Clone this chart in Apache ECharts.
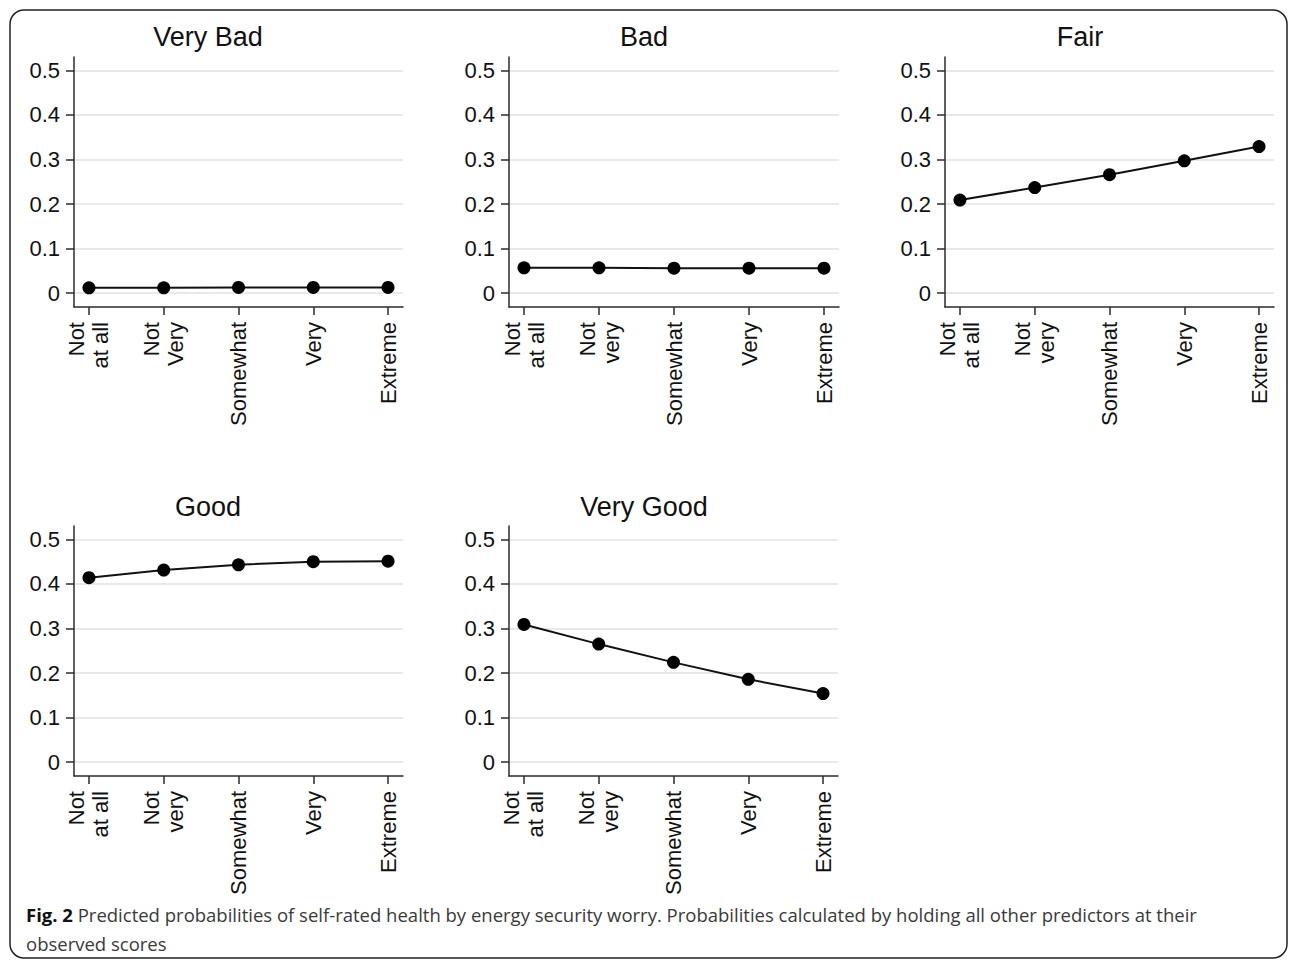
<!DOCTYPE html>
<html>
<head>
<meta charset="utf-8">
<script src="https://cdn.jsdelivr.net/npm/echarts@6/dist/echarts.min.js"></script>
<style>
html,body{margin:0;padding:0;background:#fff;}
#main{width:1290px;height:960px;}
</style>
</head>
<body>
<div id="main"></div>
<script>
// ---- data ----
const panelTitles = ['Very Bad', 'Bad', 'Fair', 'Good', 'Very Good'];
const worryLabelsFirst = ['Not\nat all', 'Not\nVery', 'Somewhat', 'Very', 'Extreme'];
const worryLabels = ['Not\nat all', 'Not\nvery', 'Somewhat', 'Very', 'Extreme'];
const yTicks = [0, 0.1, 0.2, 0.3, 0.4, 0.5];
const veryBad = [0.012, 0.012, 0.013, 0.013, 0.013];
const bad = [0.057, 0.057, 0.056, 0.056, 0.056];
const fair = [0.209, 0.237, 0.266, 0.297, 0.329];
const good = [0.414, 0.431, 0.443, 0.450, 0.451];
const veryGood = [0.309, 0.265, 0.224, 0.186, 0.154];
const captionBold = 'Fig. 2';
const captionLine1 = ' Predicted probabilities of self-rated health by energy security worry. Probabilities calculated by holding all other predictors at their';
const captionLine2 = 'observed scores';

// ---- layout ----
const seriesValues = [veryBad, bad, fair, good, veryGood];
const labelSets = [worryLabelsFirst, worryLabels, worryLabels, worryLabels, worryLabels];
const grids = [
  {left: 74, top: 57, width: 329, height: 250},
  {left: 509, top: 57, width: 330, height: 250},
  {left: 945, top: 57, width: 329, height: 250},
  {left: 74, top: 526, width: 329, height: 250},
  {left: 509, top: 526, width: 329, height: 250}
];
const titleCenters = [[208, 23], [644, 23], [1080, 23], [208, 493], [644, 493]];

const FONT = 'Arial';
const CAPFONT = 'Open Sans';
const AX = '#2b2b2b';

const option = {
  backgroundColor: '#fff',
  animation: false,
  textStyle: {fontFamily: FONT},
  title: panelTitles.map((t, i) => ({
    text: t,
    left: titleCenters[i][0],
    top: titleCenters[i][1],
    textAlign: 'center',
    padding: 0,
    textStyle: {fontFamily: FONT, fontSize: 27, fontWeight: 'normal', color: '#111'}
  })),
  grid: grids.map(g => Object.assign({containLabel: false}, g)),
  xAxis: grids.map((g, i) => ({
    type: 'value',
    gridIndex: i,
    min: -0.2,
    max: 4.2,
    axisLine: {show: true, onZero: false, lineStyle: {color: AX, width: 1.5}},
    axisTick: {show: true, length: 8, customValues: [0, 1, 2, 3, 4], lineStyle: {color: AX, width: 1.5}},
    splitLine: {show: false},
    axisLabel: {
      customValues: [0, 1, 2, 3, 4],
      rotate: 90,
      margin: 15,
      fontFamily: FONT,
      fontSize: 22,
      lineHeight: 24,
      color: '#111',
      formatter: v => labelSets[i][Math.round(v)] || ''
    }
  })),
  yAxis: grids.map((g, i) => ({
    type: 'value',
    gridIndex: i,
    min: -0.031,
    max: 0.53,
    axisLine: {show: true, onZero: false, lineStyle: {color: AX, width: 1.5}},
    axisTick: {show: true, length: 8, customValues: yTicks, lineStyle: {color: AX, width: 1.5}},
    splitLine: {show: true, lineStyle: {color: '#e2e2e2', width: 1.5}},
    axisLabel: {
      customValues: yTicks,
      margin: 14,
      fontFamily: FONT,
      fontSize: 22,
      color: '#111',
      formatter: v => String(+(+v).toFixed(1))
    }
  })),
  series: seriesValues.map((vals, i) => ({
    type: 'line',
    xAxisIndex: i,
    yAxisIndex: i,
    data: vals.map((v, k) => [k, v]),
    symbol: 'circle',
    symbolSize: 13,
    lineStyle: {color: '#111', width: 2},
    itemStyle: {color: '#000'},
    z: 5
  })),
  graphic: [
    {
      type: 'rect',
      shape: {x: 10, y: 10, width: 1277, height: 948, r: 14},
      style: {fill: 'none', stroke: '#222', lineWidth: 1.5},
      silent: true
    },
    {
      type: 'text',
      left: 26,
      top: 905,
      style: {
        text: '{b|' + captionBold + '}{n|' + captionLine1 + '}',
        rich: {
          b: {fontFamily: CAPFONT, fontSize: 18.5, fontWeight: 'bold', fill: '#111'},
          n: {fontFamily: CAPFONT, fontSize: 18.5, fill: '#3a3a3a'}
        }
      }
    },
    {
      type: 'text',
      left: 26,
      top: 934,
      style: {
        text: captionLine2,
        fontFamily: CAPFONT,
        fontSize: 18.5,
        fill: '#3a3a3a'
      }
    }
  ]
};

const chart = echarts.init(document.getElementById('main'), null, {renderer: 'svg'});
chart.setOption(option);
</script>
</body>
</html>
